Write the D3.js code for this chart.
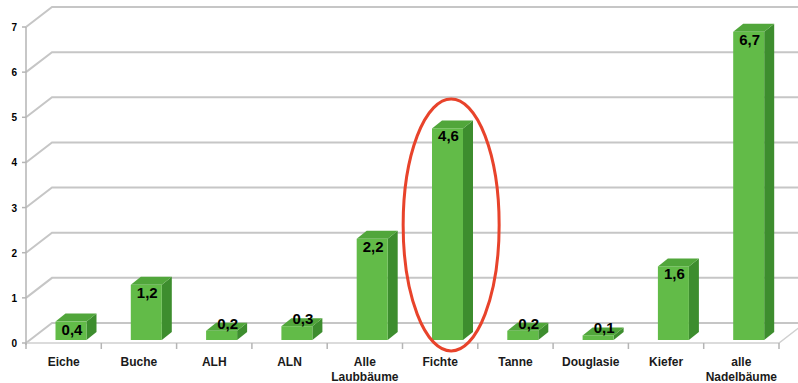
<!DOCTYPE html>
<html>
<head>
<meta charset="utf-8">
<script src="https://cdn.jsdelivr.net/npm/d3@7"></script>
<style>
  body { margin: 0; background: #fff; }
  svg { display: block; font-family: "Liberation Sans", Arial, sans-serif; }
</style>
</head>
<body>
<svg id="chart"></svg>
<script>
// Data
const categories = ['Eiche', 'Buche', 'ALH', 'ALN', 'Alle Laubbäume', 'Fichte', 'Tanne', 'Douglasie', 'Kiefer', 'alle Nadelbäume'];
const values = [0.4, 1.2, 0.2, 0.3, 2.2, 4.6, 0.2, 0.1, 1.6, 6.7];
const valueLabels = ['0,4', '1,2', '0,2', '0,3', '2,2', '4,6', '0,2', '0,1', '1,6', '6,7'];
const yTicks = [0, 1, 2, 3, 4, 5, 6, 7];
const highlighted = 'Fichte';

class BarChart3D {
    constructor(_config) {
        this.config = {
            parentElement: _config.parentElement,
            containerWidth: _config.containerWidth || 798,
            containerHeight: _config.containerHeight || 383,
            depth: _config.depth || { x: 26, y: -20 },     // depth of the floor / back wall
            barDepth: _config.barDepth || { x: 10, y: -8 }
        };
        this.initVis();
    }

    initVis() {
        let vis = this;

        vis.svg = d3.select(vis.config.parentElement)
            .attr('width', vis.config.containerWidth)
            .attr('height', vis.config.containerHeight);

        vis.xScale = d3.scaleBand()
            .domain(categories)
            .range([26, 779])
            .padding(0);

        vis.yScale = d3.scaleLinear()
            .domain([0, 7])
            .range([343, 27]);

        // bars sit a bit inside the floor, so their front plane is slightly higher
        vis.barScale = d3.scaleLinear()
            .domain([0, 7])
            .range([340, 18]);

        vis.wall = vis.svg.append('g').attr('class', 'wall');
        vis.chart = vis.svg.append('g').attr('class', 'bars');
        vis.axes = vis.svg.append('g').attr('class', 'axes');

        vis.renderVis();
    }

    renderVis() {
        let vis = this;
        const d = vis.config.depth;
        const bd = vis.config.barDepth;
        const x0 = vis.xScale.range()[0];
        const x1 = vis.xScale.range()[1];

        // back wall gridlines with diagonal connection to the axis
        vis.wall.selectAll('.grid')
            .data(yTicks)
            .join('path')
            .attr('class', 'grid')
            .attr('d', t => {
                const y = vis.yScale(t);
                return `M${x0},${y}L${x0 + d.x},${y + d.y}L${x1 + d.x + 30},${y + d.y}`;
            })
            .attr('fill', 'none')
            .attr('stroke', '#c6c6c6')
            .attr('stroke-width', 2);

        // floor front edge
        vis.wall.append('path')
            .attr('d', `M${x0},${vis.yScale(0)}L${x1},${vis.yScale(0)}L${x1 + d.x},${vis.yScale(0) + d.y}`)
            .attr('fill', 'none')
            .attr('stroke', '#d0d0d0')
            .attr('stroke-width', 1.5);

        // bars
        const bw = 31;
        const bx = c => vis.xScale(c) + 29.5;
        const rows = categories.map((c, i) => ({ c, v: values[i], label: valueLabels[i] }));

        const bar = vis.chart.selectAll('.bar')
            .data(rows)
            .join('g')
            .attr('class', 'bar');

        const base = vis.barScale(0);

        // side face
        bar.append('path')
            .attr('d', r => {
                const x = bx(r.c) + bw, top = vis.barScale(r.v);
                return `M${x},${base}L${x + bd.x},${base + bd.y}L${x + bd.x},${top + bd.y}L${x},${top}Z`;
            })
            .attr('fill', '#3d8d2e');

        // top face
        bar.append('path')
            .attr('d', r => {
                const x = bx(r.c), top = vis.barScale(r.v);
                return `M${x},${top}L${x + bd.x},${top + bd.y}L${x + bw + bd.x},${top + bd.y}L${x + bw},${top}Z`;
            })
            .attr('fill', '#51a63b');

        // front face
        bar.append('rect')
            .attr('x', r => bx(r.c))
            .attr('y', r => vis.barScale(r.v))
            .attr('width', bw)
            .attr('height', r => base - vis.barScale(r.v))
            .attr('fill', '#62bb48');

        // value labels: inside the face for taller bars, on top for the tiny ones
        bar.append('text')
            .attr('x', r => bx(r.c) + bw / 2 + (r.v < 0.4 ? 6 : 1))
            .attr('y', r => vis.barScale(r.v) + (r.v < 0.4 ? -2 : 13))
            .attr('text-anchor', 'middle')
            .attr('font-size', '15px')
            .attr('font-weight', 'bold')
            .attr('fill', '#000')
            .text(r => r.label);

        // y axis
        vis.axes.append('line')
            .attr('x1', x0).attr('x2', x0)
            .attr('y1', vis.yScale(7)).attr('y2', vis.yScale(0) + 2)
            .attr('stroke', '#b5b5b5').attr('stroke-width', 1.5);

        vis.axes.selectAll('.ytick')
            .data(yTicks)
            .join('line')
            .attr('class', 'ytick')
            .attr('x1', x0 - 4).attr('x2', x0)
            .attr('y1', t => vis.yScale(t)).attr('y2', t => vis.yScale(t))
            .attr('stroke', '#b5b5b5').attr('stroke-width', 1.5);

        vis.axes.selectAll('.ylabel')
            .data(yTicks)
            .join('text')
            .attr('class', 'ylabel')
            .attr('x', 17)
            .attr('y', t => vis.yScale(t) + 4)
            .attr('text-anchor', 'end')
            .attr('font-size', '10px')
            .attr('font-weight', 'bold')
            .text(t => t);

        // x axis ticks at band boundaries
        const bounds = categories.map(c => vis.xScale(c)).concat([x1]);
        vis.axes.selectAll('.xtick')
            .data(bounds)
            .join('line')
            .attr('class', 'xtick')
            .attr('x1', b => b).attr('x2', b => b)
            .attr('y1', vis.yScale(0)).attr('y2', vis.yScale(0) + 6)
            .attr('stroke', '#b5b5b5').attr('stroke-width', 1.5);

        const xl = vis.axes.selectAll('.xlabel')
            .data(categories)
            .join('text')
            .attr('class', 'xlabel')
            .attr('text-anchor', 'middle')
            .attr('font-size', '12px')
            .attr('font-weight', 'bold')
            .attr('fill', '#1a1a1a');

        xl.selectAll('tspan')
            .data(c => c.split(' ').map(w => ({ w, x: vis.xScale(c) + vis.xScale.bandwidth() / 2 })))
            .join('tspan')
            .attr('x', t => t.x)
            .attr('y', (t, i) => 366 + i * 15)
            .text(t => t.w);

        // red ellipse highlighting Fichte
        vis.svg.append('ellipse')
            .attr('cx', vis.xScale(highlighted) + vis.xScale.bandwidth() / 2 + 11)
            .attr('cy', 225)
            .attr('rx', 48)
            .attr('ry', 126)
            .attr('fill', 'none')
            .attr('stroke', '#e8432b')
            .attr('stroke-width', 3);
    }
}

new BarChart3D({ parentElement: '#chart' });
</script>
</body>
</html>
